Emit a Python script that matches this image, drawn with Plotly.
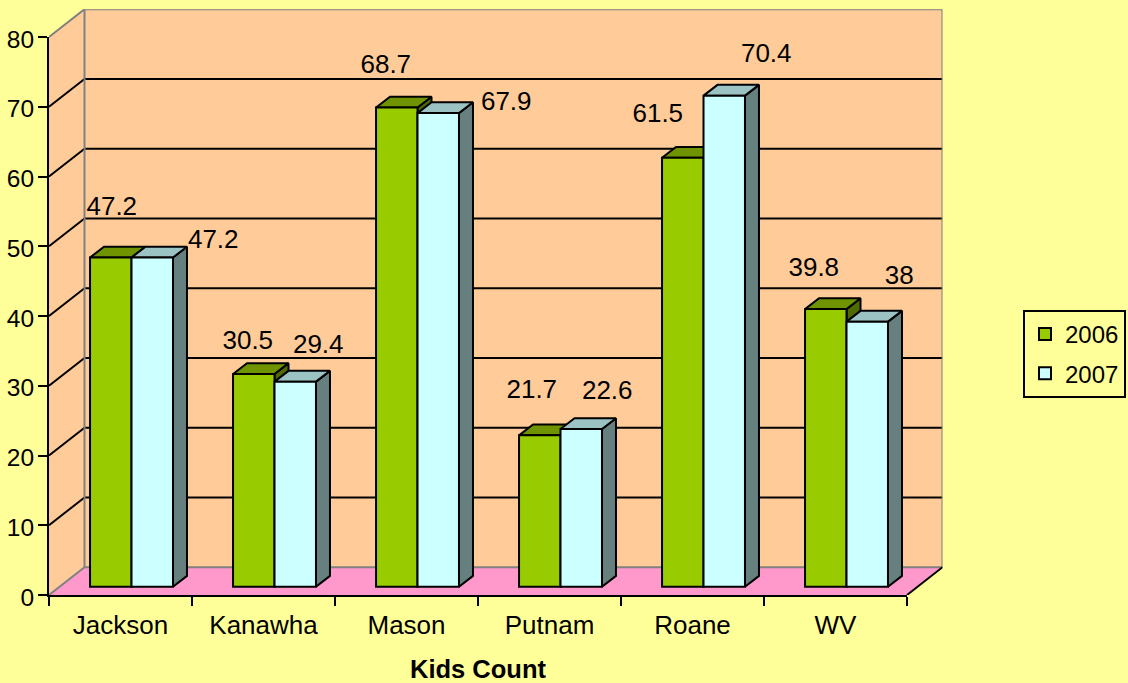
import plotly.graph_objects as go

# --- data ---
categories = ["Jackson", "Kanawha", "Mason", "Putnam", "Roane", "WV"]
values_2006 = [47.2, 30.5, 68.7, 21.7, 61.5, 39.8]
values_2007 = [47.2, 29.4, 67.9, 22.6, 70.4, 38]
y_ticks = [0, 10, 20, 30, 40, 50, 60, 70, 80]

# --- geometry of the pseudo-3D box ---
W, H = 1128, 683
PLOT_L, PLOT_R, PLOT_T, PLOT_B = 49, 907, 37, 595
WALL_PX_X, WALL_PX_Y = 35.5, 27.8
N = len(categories)
YMAX = 80
PX_X = (PLOT_R - PLOT_L) / N      # pixels per category
PX_Y = (PLOT_B - PLOT_T) / YMAX   # pixels per value unit
WALL_DX, WALL_DY = WALL_PX_X / PX_X, WALL_PX_Y / PX_Y
BAR_DX, BAR_DY = 14 / PX_X, 10.8 / PX_Y
BAR_BASE = 8.3 / PX_Y
BAR_W = 0.29
BAR_START = 0.287

# label placement relative to the centre of each bar's front-top edge (pixels)
label_dx_2006 = [1, -6, -11, -8, -25, -12]
label_dy_2006 = [49, 31, 41, 44, 42, 40]
label_dx_2007 = [61, 23, 68, 26, 42, 32]
label_dy_2007 = [16, 35, 10, 36.5, 40, 44]

FONT = "Liberation Sans, Arial, sans-serif"
FS = 26
FS_Y = 24.5
FS_LEG = 24
FS_TITLE = 25.5
BLACK = "#000000"
GREY = "#808080"
PEACH = "#FFCC99"
PINK = "#FF99CC"
YELLOW = "#FFFF99"
GREEN, GREEN_TOP, GREEN_SIDE = "#99CC00", "#6F9400", "#4F6A00"
CYAN, CYAN_TOP, CYAN_SIDE = "#CCFFFF", "#9CC3C3", "#668080"

fig = go.Figure()


def poly(xs, ys, fill, xa, ya, line=None, width=0):
    fig.add_trace(go.Scatter(
        x=xs, y=ys, mode="lines", fill="toself", fillcolor=fill,
        line=dict(color=line or fill, width=width),
        hoverinfo="skip", showlegend=False, xaxis=xa, yaxis=ya))


def segs(pairs, color, width=2):
    xs, ys = [], []
    for (x0, y0), (x1, y1) in pairs:
        xs += [x0, x1, None]
        ys += [y0, y1, None]
    fig.add_trace(go.Scatter(
        x=xs, y=ys, mode="lines", line=dict(color=color, width=width),
        cliponaxis=False, hoverinfo="skip", showlegend=False, xaxis="x", yaxis="y"))


# walls and floor (subplot x/y spans the whole box, front plane and depth)
poly([0, WALL_DX, WALL_DX, 0], [0, WALL_DY, YMAX + WALL_DY, YMAX], PEACH, "x", "y")
poly([WALL_DX, N + WALL_DX, N + WALL_DX, WALL_DX],
     [WALL_DY, WALL_DY, YMAX + WALL_DY, YMAX + WALL_DY], PEACH, "x", "y")
poly([0, N, N + WALL_DX, WALL_DX], [0, 0, WALL_DY, WALL_DY], PINK, "x", "y")

# gridlines on the side and back walls
grid = []
for v in y_ticks[1:-1]:
    grid.append(((0, v), (WALL_DX, v + WALL_DY)))
    grid.append(((WALL_DX, v + WALL_DY), (N + WALL_DX, v + WALL_DY)))
segs(grid, BLACK)

# grey frame
segs([((0, 0), (WALL_DX, WALL_DY)),
      ((WALL_DX, WALL_DY), (N + WALL_DX, WALL_DY)),
      ((0, YMAX), (WALL_DX, YMAX + WALL_DY)),
      ((WALL_DX, YMAX + WALL_DY), (N + WALL_DX, YMAX + WALL_DY)),
      ((WALL_DX, WALL_DY), (WALL_DX, YMAX + WALL_DY)),
      ((N + WALL_DX, WALL_DY), (N + WALL_DX, YMAX + WALL_DY))], GREY)
segs([((N, 0), (N + WALL_DX, WALL_DY))], BLACK)


def bar_depth(values, slot, side_col, top_col):
    sx, sy, tx, ty = [], [], [], []
    for i, v in enumerate(values):
        x0 = i + BAR_START + slot * BAR_W
        x1 = x0 + BAR_W
        t = v + BAR_BASE
        sx += [x1, x1 + BAR_DX, x1 + BAR_DX, x1, x1, None]
        sy += [BAR_BASE, BAR_BASE + BAR_DY, t + BAR_DY, t, BAR_BASE, None]
        tx += [x0, x1, x1 + BAR_DX, x0 + BAR_DX, x0, None]
        ty += [t, t, t + BAR_DY, t + BAR_DY, t, None]
    poly(sx, sy, side_col, "x2", "y2", BLACK, 2)
    poly(tx, ty, top_col, "x2", "y2", BLACK, 2)


bar_depth(values_2006, 0, GREEN_SIDE, GREEN_TOP)
bar_depth(values_2007, 1, CYAN_SIDE, CYAN_TOP)

# bar fronts on an overlaying subplot, so they sit above the depth faces
for name, vals, slot, col in (("2006", values_2006, 0, GREEN), ("2007", values_2007, 1, CYAN)):
    fig.add_trace(go.Bar(
        name=name, legendgroup=name,
        x=[i + BAR_START + (slot + 0.5) * BAR_W for i in range(N)],
        y=vals, base=BAR_BASE, width=BAR_W,
        marker=dict(color=col, line=dict(color=BLACK, width=2)),
        cliponaxis=False, hoverinfo="skip", xaxis="x3", yaxis="y3"))

# value labels
for vals, slot, ldx, ldy in ((values_2006, 0, label_dx_2006, label_dy_2006),
                             (values_2007, 1, label_dx_2007, label_dy_2007)):
    fig.add_trace(go.Scatter(
        x=[i + BAR_START + (slot + 0.5) * BAR_W + ldx[i] / PX_X for i in range(N)],
        y=[v + BAR_BASE + ldy[i] / PX_Y for i, v in enumerate(vals)],
        text=[f"{v:g}" for v in vals], mode="text", textposition="middle center",
        textfont=dict(family=FONT, size=FS, color=BLACK),
        cliponaxis=False, hoverinfo="skip", showlegend=False, xaxis="x3", yaxis="y3"))

front_x = [PLOT_L / W, PLOT_R / W]
front_y = [(H - PLOT_B) / H, (H - PLOT_T) / H]

fig.update_layout(
    width=W, height=H, autosize=False,
    paper_bgcolor=YELLOW, plot_bgcolor="rgba(0,0,0,0)",
    margin=dict(l=0, r=0, t=0, b=0, pad=0, autoexpand=False),
    font=dict(family=FONT, size=FS, color=BLACK),
    barmode="overlay", dragmode=False,
    legend=dict(x=1023 / W, xanchor="left", y=(H - 354) / H, yanchor="middle",
                bgcolor="rgba(0,0,0,0)", bordercolor=BLACK, borderwidth=2,
                tracegroupgap=5, itemwidth=30, font=dict(family=FONT, size=FS_LEG, color=BLACK)),
    # whole box
    xaxis=dict(domain=[PLOT_L / W, (PLOT_R + WALL_PX_X) / W], range=[0, N + WALL_DX],
               visible=False, fixedrange=True),
    yaxis=dict(domain=[(H - PLOT_B) / H, (H - PLOT_T + WALL_PX_Y) / H], range=[0, YMAX + WALL_DY],
               visible=False, fixedrange=True),
    # front plane: the chart's real axes
    xaxis2=dict(domain=front_x, anchor="y2", range=[0, N], tickmode="array",
                tickvals=list(range(N + 1)), ticktext=[""] * (N + 1),
                ticks="outside", ticklen=9, tickwidth=2, tickcolor=BLACK,
                showline=True, linecolor=BLACK, linewidth=2, showgrid=False, zeroline=False,
                fixedrange=True),
    yaxis2=dict(domain=front_y, anchor="x2", range=[0, YMAX], tickmode="array", tickvals=y_ticks,
                ticks="outside", ticklen=9, tickwidth=2, tickcolor=BLACK,
                ticklabelstandoff=-1, ticklabelshift=2,
                showline=True, linecolor=BLACK, linewidth=2, showgrid=False, zeroline=False,
                tickfont=dict(family=FONT, size=FS_Y, color=BLACK), fixedrange=True),
    # overlay: bar fronts, category labels and title
    xaxis3=dict(overlaying="x2", anchor="y3", side="bottom", range=[0, N],
                tickmode="array", tickvals=[i + 0.5 for i in range(N)], ticktext=categories,
                ticks="outside", ticklen=7, tickwidth=0, tickcolor="rgba(0,0,0,0)",
                showline=False, showgrid=False, zeroline=False,
                tickfont=dict(family=FONT, size=FS, color=BLACK), fixedrange=True,
                title=dict(text="<b>Kids Count</b>", standoff=30,
                           font=dict(family=FONT, size=FS_TITLE, color=BLACK))),
    yaxis3=dict(overlaying="y2", anchor="x3", range=[0, YMAX], visible=False, fixedrange=True),
)

fig.write_html("out.html", config={"displayModeBar": False},
               post_script="document.body.style.margin='0';")
